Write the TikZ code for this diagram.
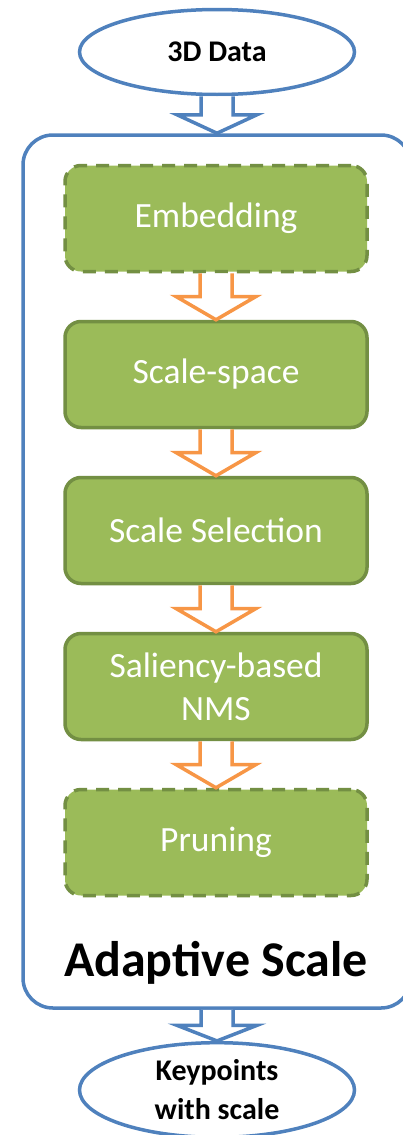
\documentclass[tikz,border=0pt]{standalone}
\usepackage{fontspec}
\setmainfont{Carlito}
\usetikzlibrary{shapes.geometric, calc}
\definecolor{frameblue}{HTML}{4F81BD}
\definecolor{stepgreen}{HTML}{9BBB59}
\definecolor{stepedge}{HTML}{738F43}
\definecolor{flowora}{HTML}{F79646}
\tikzstyle{datanode} = [ellipse, minimum width=275pt, minimum height=85pt,
    text centered, draw=frameblue, line width=3.5pt, fill=white,
    font=\bfseries\fontsize{30}{39}\selectfont, align=center]
\tikzstyle{stage} = [rectangle, rounded corners=16pt, minimum width=302pt,
    minimum height=106pt, text centered, draw=stepedge, line width=3.5pt,
    fill=stepgreen, text=white, font=\fontsize{35.5}{43}\selectfont, align=center]
\tikzstyle{optstage} = [stage, dash pattern=on 13pt off 9pt]
\tikzstyle{frame} = [rectangle, rounded corners=30pt, minimum width=388pt,
    minimum height=873pt, draw=frameblue, line width=3.5pt]
\tikzstyle{bluearrow} = [draw=frameblue, fill=white, line width=3.5pt]
\tikzstyle{orangearrow} = [draw=flowora, fill=white, line width=3.5pt]
% fat block arrow from the bottom of #2 to the top of #3
\newcommand{\fatarrow}[3]{%
  \filldraw[#1] let \p1=(#2.south), \p2=(#3.north), \n1={0.5*(\y1-\y2)} in
    (\x1-16pt,\y1) -- (\x1-16pt,\y1-\n1) -- (\x1-40pt,\y1-\n1) -- (\x1,\y2)
    -- (\x1+40pt,\y1-\n1) -- (\x1+16pt,\y1-\n1) -- (\x1+16pt,\y1);}

\begin{document}
\begin{tikzpicture}[x=1pt, y=1pt, node distance=156pt]
\useasboundingbox (0,0) rectangle (402,-1135);

% Nodes
\node (ada) [frame] at (217,-571.5) {};
\node (in) [datanode] at (217,-52) {3D Data};
\node (emb) [optstage] at (216,-218.5) {Embedding};
\node (ssp) [stage, below of=emb] {Scale-space};
\node (sel) [stage, below of=ssp] {Scale Selection};
\node (nms) [stage, below of=sel] {Saliency-based\\NMS};
\node (prun) [optstage, below of=nms] {Pruning};
\node (lbl) [font=\bfseries\fontsize{50}{56}\selectfont] at (216,-963) {Adaptive Scale};
\node (out) [datanode] at (217,-1090) {Keypoints\\with scale};

% Arrows
\fatarrow{bluearrow}{in}{ada}
\fatarrow{orangearrow}{emb}{ssp}
\fatarrow{orangearrow}{ssp}{sel}
\fatarrow{orangearrow}{sel}{nms}
\fatarrow{orangearrow}{nms}{prun}
\fatarrow{bluearrow}{ada}{out}

\end{tikzpicture}
\end{document}
